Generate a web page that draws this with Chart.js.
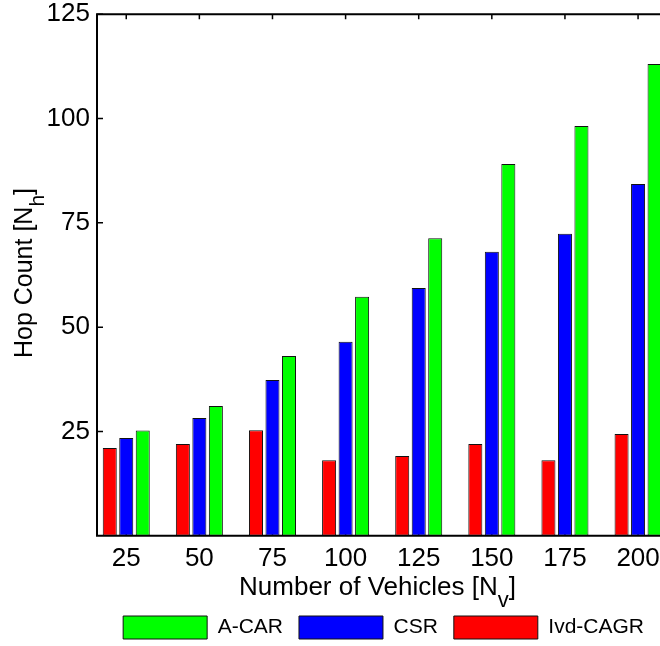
<!DOCTYPE html>
<html>
<head>
<meta charset="utf-8">
<script src="https://cdn.jsdelivr.net/npm/chart.js@4.4.1/dist/chart.umd.min.js"></script>
<style>
  html, body { margin: 0; padding: 0; background: #fff; overflow: hidden; width: 660px; height: 646px; }
  canvas { display: block; }
</style>
</head>
<body>
<canvas id="chart" width="660" height="649"></canvas>
<script>
// Number of vehicles on the road (x categories)
const categories = ['25', '50', '75', '100', '125', '150', '175', '200'];
// Average hop count per protocol
const ivdCagr = [21.0, 22.0, 25.3, 18.1, 19.1, 22.0, 18.1, 24.4];
const csr     = [23.4, 28.2, 37.3, 46.5, 59.4, 68.1, 72.4, 84.3];
const aCar    = [25.2, 31.1, 43.1, 57.3, 71.3, 89.1, 98.2, 113.1];
// Hop count axis ticks
const yTicks = [25, 50, 75, 100, 125];

const FONT = "'Liberation Sans', Arial, Helvetica, sans-serif";

const toPoints = vals => vals.map((v, i) => ({ x: i + 1, y: v }));

// MATLAB-style box: axis lines plus inward tick marks
const framePlugin = {
  id: 'frame',
  beforeDatasetsDraw(chart) {
    const { ctx, chartArea: a, scales: { x, y } } = chart;
    ctx.save();
    ctx.strokeStyle = '#000';
    ctx.lineWidth = 1.5;
    ctx.beginPath();
    yTicks.forEach(t => {
      const py = y.getPixelForValue(t);
      ctx.moveTo(a.left, py); ctx.lineTo(a.left + 6, py);
    });
    categories.forEach((c, i) => {
      const px = x.getPixelForValue(i + 1);
      ctx.moveTo(px, a.top); ctx.lineTo(px, a.top + 5);
      ctx.moveTo(px, a.bottom); ctx.lineTo(px, a.bottom - 5);
    });
    ctx.stroke();
    ctx.restore();
  },
  afterDatasetsDraw(chart) {
    const { ctx, chartArea: a } = chart;
    ctx.save();
    ctx.strokeStyle = '#000';
    ctx.lineWidth = 2;
    ctx.beginPath();
    ctx.moveTo(a.right + 2, a.top); ctx.lineTo(a.left, a.top);
    ctx.lineTo(a.left, a.bottom); ctx.lineTo(a.right + 2, a.bottom);
    ctx.stroke();
    ctx.restore();
  }
};

// Axis titles with a subscript symbol
function drawSubscripted(ctx, main, sub, tail, cx, baseY, size, subSize) {
  ctx.font = `${size}px ${FONT}`;
  const w1 = ctx.measureText(main).width;
  const w3 = ctx.measureText(tail).width;
  ctx.font = `${subSize}px ${FONT}`;
  const w2 = ctx.measureText(sub).width;
  const x0 = cx - (w1 + w2 + w3) / 2;
  ctx.textAlign = 'left';
  ctx.textBaseline = 'alphabetic';
  ctx.fillStyle = '#000';
  ctx.font = `${size}px ${FONT}`;
  ctx.fillText(main, x0, baseY);
  ctx.fillText(tail, x0 + w1 + w2, baseY);
  ctx.font = `${subSize}px ${FONT}`;
  ctx.fillText(sub, x0 + w1, baseY + 12);
}

const titlePlugin = {
  id: 'axisTitles',
  afterDraw(chart) {
    const { ctx, chartArea: a } = chart;
    ctx.save();
    drawSubscripted(ctx, 'Number of Vehicles [N', 'v', ']', (a.left + a.right) / 2 - 1, a.bottom + 59.3, 26, 22);
    ctx.translate(a.left - 64.7, (a.top + a.bottom) / 2 - 2);
    ctx.rotate(-Math.PI / 2);
    drawSubscripted(ctx, 'Hop Count [N', 'h', ']', 0, 0, 25, 21);
    ctx.restore();
  }
};

const barStyle = { borderColor: '#111', borderWidth: 1, borderSkipped: false };

new Chart(document.getElementById('chart'), {
  type: 'bar',
  data: {
    datasets: [
      { label: 'Ivd-CAGR', data: toPoints(ivdCagr), backgroundColor: '#ff0000', ...barStyle },
      { label: 'CSR', data: toPoints(csr), backgroundColor: '#0000ff', ...barStyle },
      { label: 'A-CAR', data: toPoints(aCar), backgroundColor: '#00ff00', ...barStyle }
    ]
  },
  options: {
    responsive: false,
    animation: false,
    devicePixelRatio: 1,
    categoryPercentage: 0.677,
    barPercentage: 0.85,
    layout: { padding: { top: 14.3, left: 0, right: 0, bottom: 0 } },
    plugins: {
      legend: {
        position: 'bottom',
        align: 'end',
        reverse: true,
        labels: {
          boxWidth: 84,
          boxHeight: 23,
          padding: 16,
          color: '#000',
          font: { family: FONT, size: 21 }
        }
      },
      tooltip: { enabled: false }
    },
    scales: {
      x: {
        type: 'linear',
        min: 0.6,
        max: 8.3,
        offset: false,
        grid: { display: false, drawTicks: false },
        border: { display: false },
        afterBuildTicks: s => { s.ticks = categories.map((c, i) => ({ value: i + 1 })); },
        afterFit: s => { s.height = 64.3; s.paddingLeft = 0; s.paddingRight = 0; },
        ticks: {
          autoSkip: false,
          maxRotation: 0,
          padding: 8,
          color: '#000',
          font: { family: FONT, size: 26 },
          callback: v => categories[Math.round(v) - 1]
        }
      },
      y: {
        min: 0,
        max: 125,
        grid: { display: false, drawTicks: false },
        border: { display: false },
        afterBuildTicks: s => { s.ticks = yTicks.map(v => ({ value: v })); },
        afterFit: s => { s.width = 97; s.paddingTop = 0; s.paddingBottom = 0; },
        ticks: {
          padding: 7,
          color: '#000',
          font: { family: FONT, size: 26, lineHeight: 1 }
        }
      }
    }
  },
  plugins: [framePlugin, titlePlugin]
});
</script>
</body>
</html>
